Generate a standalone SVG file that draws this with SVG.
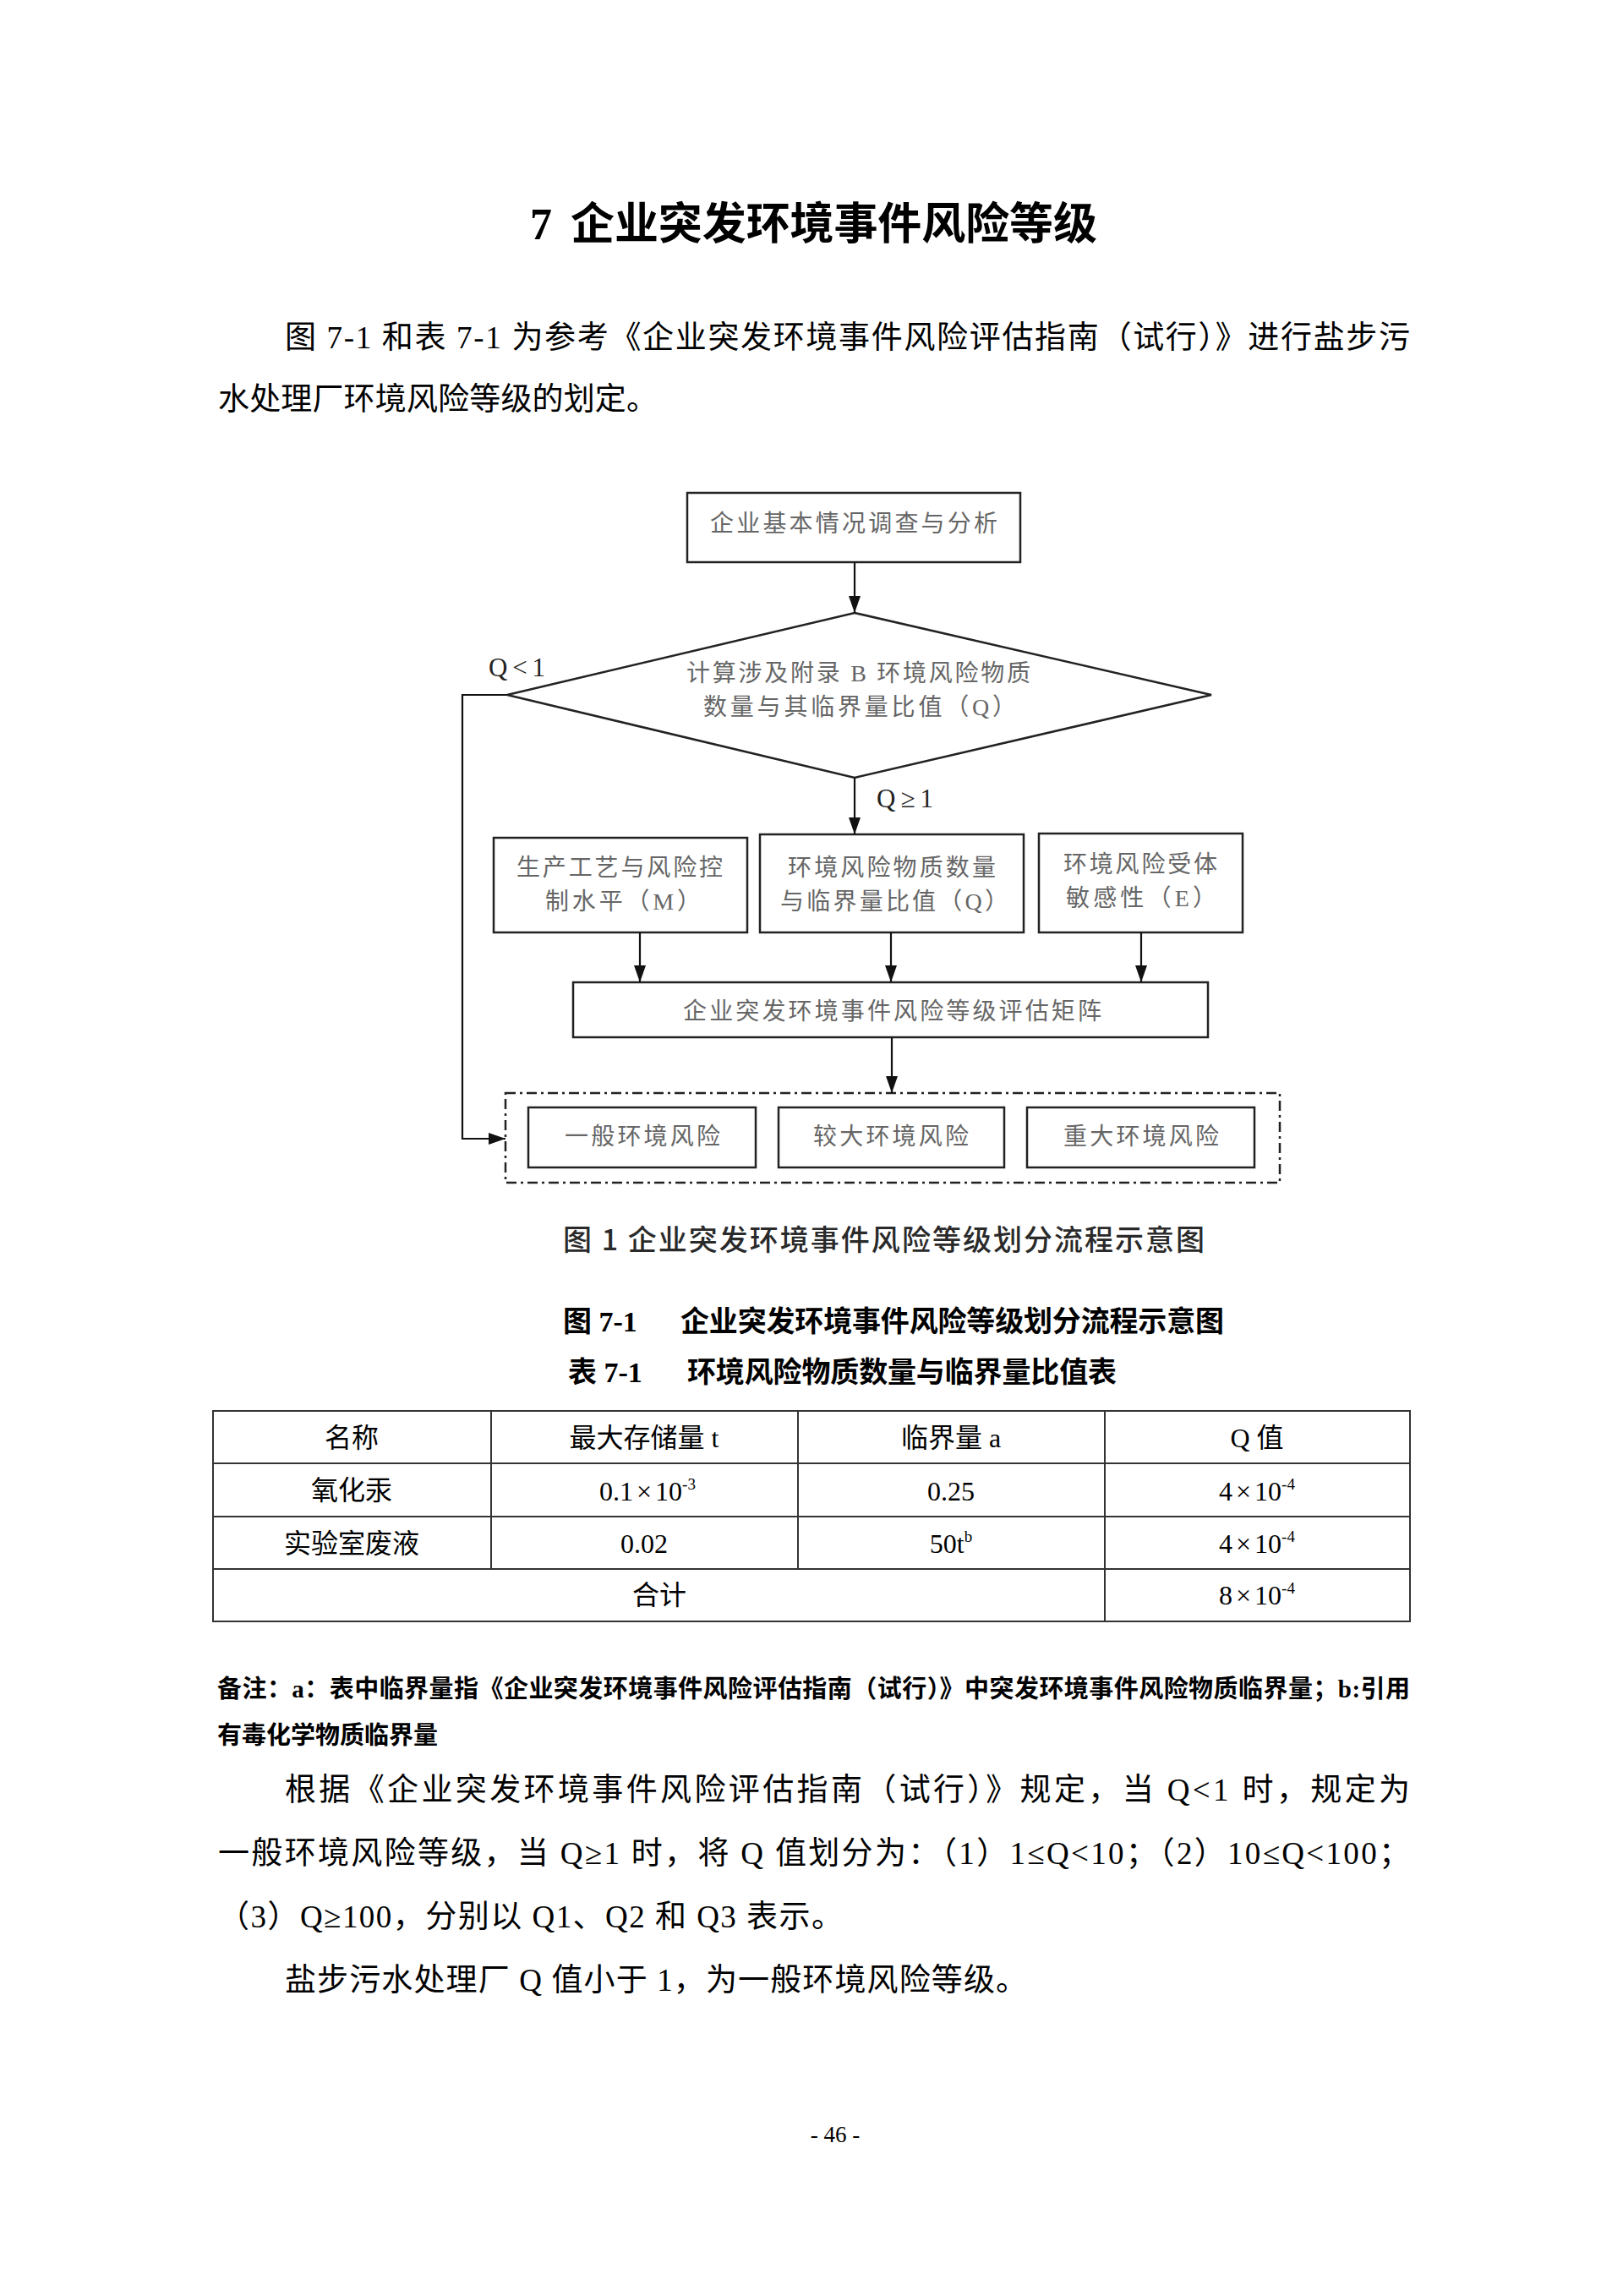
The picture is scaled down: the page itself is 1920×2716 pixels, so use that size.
<svg xmlns="http://www.w3.org/2000/svg" width="1920" height="2716" viewBox="0 0 1920 2716">
<style>
.body{font-family:"Liberation Serif","Noto Sans CJK SC",serif;font-size:37px;fill:#000}
.bold{font-family:"Liberation Serif","Noto Sans CJK SC",serif;font-weight:bold;fill:#000}
.fc{font-family:"Liberation Serif","Noto Sans CJK SC",serif;font-size:28px;fill:#666}
.lbl{font-family:"Liberation Serif","Noto Sans CJK SC",serif;font-size:31px;fill:#222}
.box{fill:none;stroke:#222;stroke-width:2.5}
.con{fill:none;stroke:#111;stroke-width:2.2}
.tbl{fill:none;stroke:#333;stroke-width:2}
.td{font-family:"Liberation Serif","Noto Sans CJK SC",serif;font-size:32px;fill:#000;text-anchor:middle}
.cap{font-family:"Noto Sans CJK SC",sans-serif;font-size:34px;font-weight:500;fill:#2a2a2a}
</style>
<defs>
<marker id="arr" markerUnits="userSpaceOnUse" markerWidth="20" markerHeight="14" refX="20" refY="7" orient="auto">
<path d="M0,0 L20,7 L0,14 z" fill="#111"/>
</marker>
</defs>
<rect x="0" y="0" width="1920" height="2716" fill="#fff"/>

<!-- Title -->
<text class="bold" x="627" y="283" font-size="52">7</text>
<text class="bold" x="675" y="283" font-size="52" textLength="623" lengthAdjust="spacing">企业突发环境事件风险等级</text>

<!-- Intro paragraph -->
<text class="body" x="337" y="412" textLength="1331" lengthAdjust="spacing">图 7-1 和表 7-1 为参考《企业突发环境事件风险评估指南（试行）》进行盐步污</text>
<text class="body" x="258" y="485" textLength="520" lengthAdjust="spacing">水处理厂环境风险等级的划定。</text>

<!-- Flowchart nodes -->
<g id="node-survey">
<rect class="box" x="813" y="583" width="394" height="82"/>
<text class="fc" x="840" y="629" textLength="340" lengthAdjust="spacing">企业基本情况调查与分析</text>
</g>
<g id="node-calc">
<polygon class="box" points="1011,725 1433,822 1011,920 600,822"/>
<text class="fc" x="812" y="806" textLength="407" lengthAdjust="spacing">计算涉及附录 B 环境风险物质</text>
<text class="fc" x="832" y="846" textLength="370" lengthAdjust="spacing">数量与其临界量比值（Q）</text>
</g>
<g id="node-m">
<rect class="box" x="584" y="991" width="300" height="112"/>
<text class="fc" x="611" y="1036" textLength="244" lengthAdjust="spacing">生产工艺与风险控</text>
<text class="fc" x="645" y="1076" textLength="184" lengthAdjust="spacing">制水平（M）</text>
</g>
<g id="node-q">
<rect class="box" x="899" y="987" width="312" height="116"/>
<text class="fc" x="932" y="1036" textLength="246" lengthAdjust="spacing">环境风险物质数量</text>
<text class="fc" x="923" y="1076" textLength="270" lengthAdjust="spacing">与临界量比值（Q）</text>
</g>
<g id="node-e">
<rect class="box" x="1229" y="986" width="241" height="117"/>
<text class="fc" x="1258" y="1032" textLength="182" lengthAdjust="spacing">环境风险受体</text>
<text class="fc" x="1261" y="1072" textLength="178" lengthAdjust="spacing">敏感性（E）</text>
</g>
<g id="node-matrix">
<rect class="box" x="678" y="1162" width="751" height="65"/>
<text class="fc" x="808" y="1206" textLength="495" lengthAdjust="spacing">企业突发环境事件风险等级评估矩阵</text>
</g>
<g id="node-levels">
<rect x="598" y="1293" width="916" height="106" fill="none" stroke="#222" stroke-width="2.5" stroke-dasharray="12 5 3 5"/>
</g>
<g id="node-general">
<rect class="box" x="625" y="1310" width="269" height="71"/>
<text class="fc" x="668" y="1354" textLength="184" lengthAdjust="spacing">一般环境风险</text>
</g>
<g id="node-larger">
<rect class="box" x="921" y="1310" width="267" height="71"/>
<text class="fc" x="962" y="1354" textLength="184" lengthAdjust="spacing">较大环境风险</text>
</g>
<g id="node-major">
<rect class="box" x="1215" y="1310" width="269" height="71"/>
<text class="fc" x="1258" y="1354" textLength="184" lengthAdjust="spacing">重大环境风险</text>
</g>

<!-- Connectors -->
<g id="connectors">
<line class="con" x1="1011" y1="665" x2="1011" y2="725" marker-end="url(#arr)"/>
<polyline class="con" points="600,822 547,822 547,1347 598,1347" marker-end="url(#arr)"/>
<line class="con" x1="1011" y1="920" x2="1011" y2="987" marker-end="url(#arr)"/>
<line class="con" x1="757" y1="1103" x2="757" y2="1162" marker-end="url(#arr)"/>
<line class="con" x1="1054" y1="1103" x2="1054" y2="1162" marker-end="url(#arr)"/>
<line class="con" x1="1350" y1="1103" x2="1350" y2="1162" marker-end="url(#arr)"/>
<line class="con" x1="1055" y1="1227" x2="1055" y2="1293" marker-end="url(#arr)"/>
<text class="lbl" x="578" y="800" textLength="67" lengthAdjust="spacing">Q&lt;1</text>
<text class="lbl" x="1037" y="955" textLength="67" lengthAdjust="spacing">Q≥1</text>
</g>

<!-- Captions -->
<text class="cap" x="666" y="1479" textLength="759" lengthAdjust="spacing">图 1 企业突发环境事件风险等级划分流程示意图</text>
<text class="bold" x="666" y="1575" font-size="34">图 7-1</text>
<text class="bold" x="805" y="1575" font-size="34" textLength="643" lengthAdjust="spacing">企业突发环境事件风险等级划分流程示意图</text>
<text class="bold" x="672" y="1635" font-size="34">表 7-1</text>
<text class="bold" x="813" y="1635" font-size="34" textLength="508" lengthAdjust="spacing">环境风险物质数量与临界量比值表</text>

<!-- Table -->
<g id="table">
<rect class="tbl" x="252" y="1669" width="1416" height="249"/>
<line class="tbl" x1="252" y1="1731" x2="1668" y2="1731"/>
<line class="tbl" x1="252" y1="1794" x2="1668" y2="1794"/>
<line class="tbl" x1="252" y1="1856" x2="1668" y2="1856"/>
<line class="tbl" x1="581" y1="1669" x2="581" y2="1856"/>
<line class="tbl" x1="944" y1="1669" x2="944" y2="1856"/>
<line class="tbl" x1="1307" y1="1669" x2="1307" y2="1918"/>
<text class="td" x="416" y="1712">名称</text>
<text class="td" x="762" y="1712">最大存储量 t</text>
<text class="td" x="1125" y="1712">临界量 a</text>
<text class="td" x="1487" y="1712">Q 值</text>
<text class="td" x="416" y="1774">氧化汞</text>
<text class="td" x="766" y="1775">0.1<tspan dx="4">×</tspan><tspan dx="4">10</tspan><tspan font-size="19" dy="-13">-3</tspan></text>
<text class="td" x="1125" y="1775">0.25</text>
<text class="td" x="1487" y="1775">4<tspan dx="4">×</tspan><tspan dx="4">10</tspan><tspan font-size="19" dy="-13">-4</tspan></text>
<text class="td" x="416" y="1837">实验室废液</text>
<text class="td" x="762" y="1837">0.02</text>
<text class="td" x="1125" y="1837">50t<tspan font-size="19" dy="-13">b</tspan></text>
<text class="td" x="1487" y="1837">4<tspan dx="4">×</tspan><tspan dx="4">10</tspan><tspan font-size="19" dy="-13">-4</tspan></text>
<text class="td" x="780" y="1898">合计</text>
<text class="td" x="1487" y="1898">8<tspan dx="4">×</tspan><tspan dx="4">10</tspan><tspan font-size="19" dy="-13">-4</tspan></text>
</g>

<!-- Note -->
<text class="bold" x="257" y="2008" font-size="29" textLength="1411" lengthAdjust="spacing">备注：a：表中临界量指《企业突发环境事件风险评估指南（试行）》中突发环境事件风险物质临界量；b:引用</text>
<text class="bold" x="257" y="2063" font-size="29" textLength="261" lengthAdjust="spacing">有毒化学物质临界量</text>

<!-- Body paragraph -->
<text class="body" x="337" y="2130" textLength="1331" lengthAdjust="spacing">根据《企业突发环境事件风险评估指南（试行）》规定，当 Q&lt;1 时，规定为</text>
<text class="body" x="258" y="2205" textLength="1410" lengthAdjust="spacing">一般环境风险等级，当 Q≥1 时，将 Q 值划分为：（1）1≤Q&lt;10；（2）10≤Q&lt;100；</text>
<text class="body" x="258" y="2280" textLength="739" lengthAdjust="spacing">（3）Q≥100，分别以 Q1、Q2 和 Q3 表示。</text>
<text class="body" x="337" y="2355" textLength="878" lengthAdjust="spacing">盐步污水处理厂 Q 值小于 1，为一般环境风险等级。</text>

<!-- Page number -->
<text x="988" y="2534" font-family="Liberation Serif, serif" font-size="27" fill="#000" text-anchor="middle">- 46 -</text>
</svg>
